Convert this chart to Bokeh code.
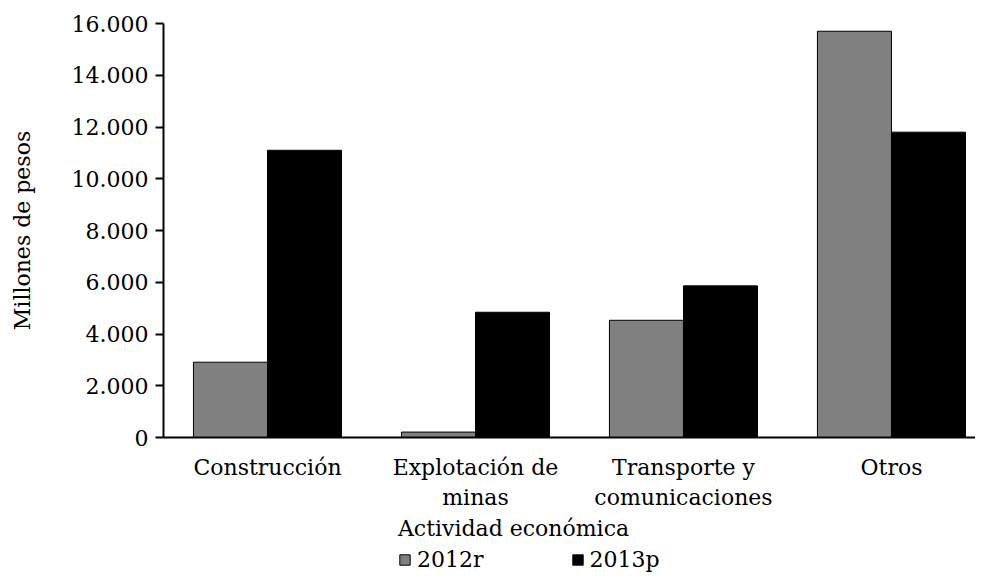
from bokeh.plotting import figure
from bokeh.models import (Range1d, FixedTicker, ColumnDataSource, Legend, LegendItem, Label)
from bokeh.layouts import column
from bokeh.transform import dodge
from bokeh.embed import file_html
from bokeh.resources import INLINE

categories = ["Construcción", "Explotación de\nminas", "Transporte y\ncomunicaciones", "Otros"]
series_names = ["2012r", "2013p"]
values_2012r = [2910, 210, 4530, 15700]
values_2013p = [11100, 4840, 5860, 11800]
y_ticks = [0, 2000, 4000, 6000, 8000, 10000, 12000, 14000, 16000]
x_title = "Actividad económica"
y_title = "Millones de pesos"

FONT = "DejaVu Serif"
FS = "22px"
GRAY = "#808080"

xpos = [i + 0.5 for i in range(len(categories))]
src = ColumnDataSource(dict(x=xpos, a=values_2012r, b=values_2013p))

W = 975
H1 = 512
H2 = 60
LEFT = 163

p = figure(width=W, height=H1, output_backend="svg", toolbar_location=None,
           x_range=Range1d(0, 3.904), y_range=Range1d(0, 16000),
           min_border_left=LEFT, min_border_right=0, min_border_top=23, min_border_bottom=75)
p.outline_line_color = None
p.grid.visible = False
p.background_fill_color = "white"
p.border_fill_color = "white"

bw = 0.356
bar_a = dict(fill_color=GRAY, line_color="black", line_width=1)
bar_b = dict(fill_color="black", line_color="black", line_width=1)
p.vbar(x=dodge("x", -bw / 2, range=p.x_range), top="a", width=bw, source=src, **bar_a)
p.vbar(x=dodge("x", bw / 2, range=p.x_range), top="b", width=bw, source=src, **bar_b)

# x axis
xa = p.xaxis[0]
xa.ticker = FixedTicker(ticks=xpos)
xa.major_label_overrides = {x: c for x, c in zip(xpos, categories)}
xa.major_tick_line_color = None
xa.minor_tick_line_color = None
xa.axis_line_width = 2
xa.axis_line_color = "black"
xa.major_label_text_font = FONT
xa.major_label_text_font_size = FS
xa.major_label_text_color = "black"
xa.major_label_standoff = 11

# y axis
ya = p.yaxis[0]
ya.ticker = FixedTicker(ticks=y_ticks)
ya.major_label_overrides = {t: f"{t:,}".replace(",", ".") for t in y_ticks}
ya.minor_tick_line_color = None
ya.major_tick_in = 0
ya.major_tick_out = 8
ya.major_tick_line_width = 2
ya.axis_line_width = 2
ya.axis_line_color = "black"
ya.major_label_text_font = FONT
ya.major_label_text_font_size = FS
ya.major_label_text_color = "black"
ya.major_label_standoff = 7
ya.axis_label = y_title
ya.axis_label_text_font = FONT
ya.axis_label_text_font_size = FS
ya.axis_label_text_font_style = "normal"
ya.axis_label_text_color = "black"
ya.axis_label_standoff = 34

# second strip: x-axis title and legend (frame aligned with the main plot's frame;
# ranges in pixels, y downward)
p2 = figure(width=W, height=H2, output_backend="svg", toolbar_location=None,
            x_range=Range1d(LEFT, W), y_range=Range1d(H2, 0),
            x_axis_type=None, y_axis_type=None, min_border=0)
p2.outline_line_color = None
p2.grid.visible = False
# legend-only renderers: one undrawable (NaN) row so that the legend swatch is painted
swatch = ColumnDataSource(dict(x=[float("nan")], a=[0.0], b=[0.0]))
la = p2.vbar(x="x", top="a", width=bw, source=swatch, **bar_a)
lb = p2.vbar(x="x", top="b", width=bw, source=swatch, **bar_b)

p2.add_layout(Label(x=513, y=16, text=x_title, text_align="center", text_baseline="middle",
                    text_font=FONT, text_font_size=FS, text_color="black"))

legend = Legend(items=[LegendItem(label=series_names[0], renderers=[la]),
                       LegendItem(label=series_names[1], renderers=[lb])],
                orientation="horizontal", location=(398 - LEFT, 0),
                glyph_width=13, glyph_height=13, label_standoff=6, spacing=87,
                padding=0, margin=0, border_line_color=None, background_fill_alpha=0,
                label_text_font=FONT, label_text_font_size=FS, label_text_color="black",
                label_height=13, label_text_baseline="middle")
p2.add_layout(legend, "center")

layout = column(p, p2, spacing=0)
open("out.html", "w").write(file_html(layout, INLINE))
